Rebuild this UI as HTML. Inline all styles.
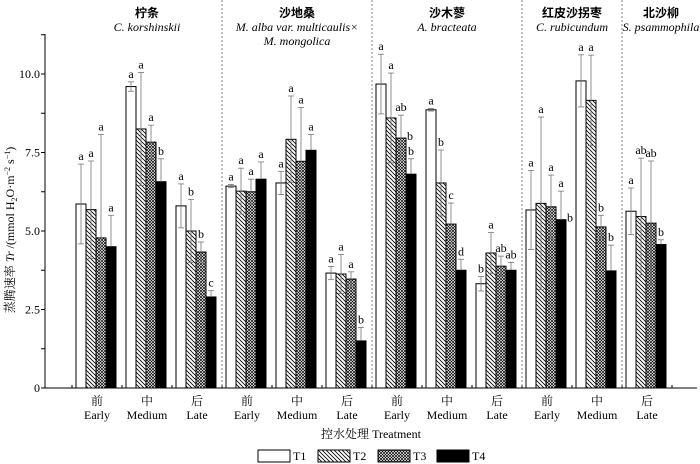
<!DOCTYPE html>
<html><head><meta charset="utf-8"><style>
html,body{margin:0;padding:0;background:#fff;}
svg{display:block;}
svg text{font-family:'Liberation Serif','Times New Roman','Noto Serif CJK SC',serif;}
svg text.cjk, svg tspan.cjk{font-family:'Noto Serif CJK SC',serif;}
svg text.cjkb{font-family:'Noto Sans CJK SC',sans-serif;font-weight:bold;}
</style></head><body>
<svg id="chart" width="700" height="464" viewBox="0 0 700 464">
<defs>
<pattern id="pT2" patternUnits="userSpaceOnUse" width="4" height="4">
<rect width="4" height="4" fill="#fff"/><path d="M-1,-1 L5,5 M-1,3 L1,5 M3,-1 L5,1" stroke="#000" stroke-width="0.8"/>
</pattern>
<pattern id="pT3" patternUnits="userSpaceOnUse" width="3" height="3">
<rect width="3" height="3" fill="#fff"/><path d="M0,0 L3,3 M3,0 L0,3" stroke="#000" stroke-width="0.7"/>
</pattern>
</defs>
<g id="plot"></g>
</svg>
<script>
const categories = ["前|Early","中|Medium","后|Late","前|Early","中|Medium","后|Late","前|Early","中|Medium","后|Late","前|Early","中|Medium","后|Late"];
const seriesNames = ["T1","T2","T3","T4"];
const t1 = [5.86,9.6,5.8,6.43,6.53,3.66,9.68,8.86,3.32,5.67,9.78,5.63];
const t2 = [5.68,8.25,5.0,6.27,7.92,3.63,8.6,6.53,4.3,5.88,9.16,5.46];
const t3 = [4.78,7.83,4.33,6.25,7.22,3.47,7.96,5.22,3.88,5.77,5.13,5.25];
const t4 = [4.5,6.57,2.9,6.65,7.57,1.5,6.81,3.75,3.75,5.36,3.73,4.57];
const e1 = [1.27,0.15,0.7,0.05,0.37,0.21,0.95,0.04,0.23,1.26,0.83,0.74];
const e2 = [1.55,1.8,1.0,0.73,1.38,0.62,1.43,1.05,0.65,2.75,1.44,1.86];
const e3 = [3.29,0.54,0.32,0.4,1.71,0.23,0.73,0.67,0.32,1.01,0.37,1.98];
const e4 = [1.0,0.73,0.2,0.55,0.5,0.43,0.49,0.35,0.25,0.91,0.82,0.15];
const l1 = ["a","a","a","a","a","a","a","a","b","a","a","a"];
const l2 = ["a","a","b","a","a","a","a","b","a","a","a","ab"];
const l3 = ["a","a","b","a","a","a","ab","c","ab","a","b","ab"];
const l4 = ["a","b","c","a","a","b","b","d","ab","a","b","b"];
const extraLabels = [[6,2,"b"],[9,3,"b"]];
const speciesCn = ["柠条","沙地桑","沙木蓼","红皮沙拐枣","北沙柳"];
const speciesLat = [["C. korshinskii"],["M. alba var. multicaulis×","M. mongolica"],["A. bracteata"],["C. rubicundum"],["S. psammophila"]];
const speciesGroups = [3,3,3,2,1];
const yTicks = [0,2.5,5.0,7.5,10.0];
const yTickLabels = ["0","2.5","5.0","7.5","10.0"];

const NS="http://www.w3.org/2000/svg";
const g=document.getElementById('plot');
const X0=72, GW=50, BW=10, Y0=388, K=31.4;
const yS=v=>Y0-v*K;
const gx=i=>X0+i*GW;
function mk(t,a,p){const e=document.createElementNS(NS,t);for(const k in a)e.setAttribute(k,a[k]);(p||g).appendChild(e);return e;}
function txt(x,y,s,a,p){const e=mk('text',Object.assign({x:x,y:y,'text-anchor':'middle','font-size':12},a||{}),p);e.textContent=s;return e;}

const ya=mk('line',{x1:45,y1:34,x2:45,y2:Y0,stroke:'#000','stroke-width':1});


const xa=mk('line',{x1:45,y1:Y0,x2:697,y2:Y0,stroke:'#000','stroke-width':1});


for(let v=0;v<=11.25;v+=1.25){mk('line',{x1:41,y1:yS(v),x2:45,y2:yS(v),stroke:'#000'});}
yTicks.forEach((v,i)=>{const t=txt(40,yS(v)+4,yTickLabels[i],{'text-anchor':'end'});

});
for(let i=0;i<=12;i++){mk('line',{x1:gx(i),y1:Y0,x2:gx(i),y2:Y0-3,stroke:'#000'});}

let start=0;
speciesGroups.forEach((n,s)=>{
  const xl=gx(start), xr=gx(start+n);
  if(s>0){const d=mk('line',{x1:xl,y1:0,x2:xl,y2:Y0,stroke:'#666','stroke-dasharray':'2,2','stroke-width':0.8});
  
  }
  let cx=(xl+xr)/2; if(s===4)cx=661;
  const tc=txt(cx,17,speciesCn[s],{'font-size':12,'class':'cjkb'});
  
  
  speciesLat[s].forEach((l,j)=>{const tl=txt(cx,31+j*14,l,{'font-style':'italic'});
  
  });
  start+=n;
});

const vals=[t1,t2,t3,t4], errs=[e1,e2,e3,e4], labs=[l1,l2,l3,l4];
const fills=['#fff','url(#pT2)','url(#pT3)','#000'];
categories.forEach((c,i)=>{
  for(let s=0;s<4;s++){
    const x=gx(i)+4+s*BW, v=vals[s][i], e=errs[s][i];
    const r=mk('rect',{x:x,y:yS(v),width:BW,height:Y0-yS(v),fill:fills[s],stroke:'#000','stroke-width':1});
    
    
    const cx=x+BW/2, lc=s===3?'#000':'#777';
    mk('line',{x1:cx,y1:yS(v+e),x2:cx,y2:yS(v),stroke:'#777','stroke-width':0.8});
    mk('line',{x1:cx,y1:yS(v),x2:cx,y2:yS(v-e),stroke:lc,'stroke-width':0.8});
    mk('line',{x1:cx-3,y1:yS(v+e),x2:cx+3,y2:yS(v+e),stroke:'#777','stroke-width':0.8});
    mk('line',{x1:cx-3,y1:yS(v-e),x2:cx+3,y2:yS(v-e),stroke:lc,'stroke-width':0.8});
    const lt=txt(cx,yS(v+e)-4,labs[s][i],{'font-size':12});
    
    
  }
  const parts=c.split('|');
  const c1=txt(gx(i)+GW/2,405,parts[0],{'class':'cjk','font-size':12});
  
  
  const c2=txt(gx(i)+GW/2,419,parts[1],{'font-size':12});
  
  
});
extraLabels.forEach(([i,s,t])=>{
  const x=gx(i)+4+s*BW+BW+1;
  const et=txt(x,yS(vals[s][i])+2,t,{'font-size':12,'text-anchor':'start'});
  
  
});

const xt=mk('text',{x:371,y:438,'text-anchor':'middle','font-size':12});


xt.innerHTML='<tspan class="cjk">控水处理</tspan> Treatment';
const yt=mk('text',{x:0,y:0,'text-anchor':'middle','font-size':12,transform:'translate(14,230) rotate(-90)'});


yt.innerHTML='<tspan class="cjk">蒸腾速率 </tspan><tspan font-style="italic">Tr</tspan> /(mmol H<tspan font-size="8" dy="3">2</tspan><tspan dy="-3">O·m</tspan><tspan font-size="8" dy="-4">−2</tspan><tspan dy="4"> s</tspan><tspan font-size="8" dy="-4">−1</tspan><tspan dy="4">)</tspan>';

const lx=[258,318,378,437];
seriesNames.forEach((n,s)=>{
  const r=mk('rect',{x:lx[s],y:450,width:32,height:12,fill:fills[s],stroke:'#000'});
  
  
  const t=txt(lx[s]+35,460,n,{'text-anchor':'start'});
  
  
});
</script>
</body></html>
